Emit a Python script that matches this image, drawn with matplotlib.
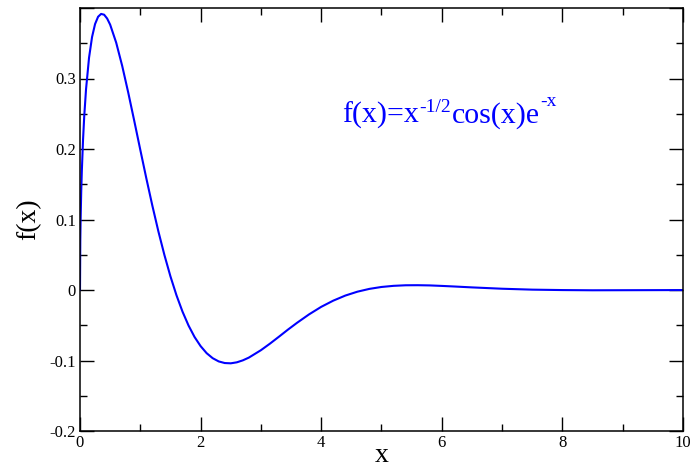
import matplotlib
matplotlib.use("Agg")
import matplotlib.pyplot as plt
from matplotlib.ticker import MultipleLocator, FuncFormatter

# Values
x_vals = [0.0, 0.005, 0.01, 0.02, 0.03, 0.05, 0.07, 0.1, 0.15, 0.2, 0.25, 0.3, 0.35,
          0.4, 0.45, 0.5, 0.6, 0.7, 0.8, 0.9, 1.0, 1.1, 1.2, 1.3, 1.4, 1.5, 1.6, 1.7,
          1.8, 1.9, 2.0, 2.1, 2.2, 2.3, 2.4, 2.5, 2.6, 2.7, 2.8, 3.0, 3.15, 3.3, 3.45,
          3.6, 3.8, 4.0, 4.2, 4.4, 4.6, 4.8, 5.0, 5.2, 5.4, 5.6, 5.8, 6.0, 6.2, 6.5,
          7.0, 7.5, 8.0, 8.5, 9.0, 9.5, 10.0]
y_vals = [0.0, 0.0704, 0.099, 0.1386, 0.168, 0.2124, 0.2461, 0.2847, 0.3296, 0.3589,
          0.3773, 0.3876, 0.3916, 0.3905, 0.3851, 0.3764, 0.3509, 0.3178, 0.2800,
          0.2398, 0.1988, 0.1584, 0.1196, 0.0831, 0.0496, 0.0193, -0.0075, -0.0307,
          -0.0504, -0.0667, -0.0796, -0.0896, -0.0967, -0.1013, -0.1036, -0.1040,
          -0.1026, -0.0998, -0.0959, -0.0854, -0.0761, -0.0662, -0.0561, -0.0465,
          -0.0345, -0.0239, -0.0151, -0.0079, -0.0024, 0.0016, 0.0043, 0.0059, 0.0067,
          0.0068, 0.0065, 0.0058, 0.0050, 0.0037, 0.0018, 0.0005, -0.0001, -0.0004,
          -0.0003, -0.0002, -0.0001]

x_label = "x"
y_label = "f(x)"
# annotation pieces: (text, is_superscript)
annotation_parts = [("f(x)=x", False), ("-1/2", True), ("cos(x)e", False), ("-x", True)]

plt.rcParams['font.family'] = ['Liberation Serif', 'DejaVu Serif']

fig = plt.figure(figsize=(6.9, 4.7), dpi=100)
ax = fig.add_axes([80/690, 1-431/470, 603/690, 423/470])

ax.plot(x_vals, y_vals, color='#0000ff', lw=1.5)
ax.set_xlim(0, 10)
ax.set_ylim(-0.2, 0.4)

ax.xaxis.set_major_locator(MultipleLocator(2))
ax.xaxis.set_minor_locator(MultipleLocator(1))
ax.yaxis.set_major_locator(MultipleLocator(0.1))
ax.yaxis.set_minor_locator(MultipleLocator(0.05))

def fmt(v, pos):
    s = ('%.1f' % v)
    if s in ('0.0', '-0.0'):
        return '0'
    if s == '0.4':
        return ''
    return s
ax.yaxis.set_major_formatter(FuncFormatter(fmt))
ax.xaxis.set_major_formatter(FuncFormatter(lambda v, p: '%d' % round(v)))

ax.tick_params(which='both', direction='in', top=True, right=True, labelsize=12,
               width=1.0, colors='black')
ax.tick_params(which='major', length=10, pad=3)
ax.tick_params(which='minor', length=5)
for s in ax.spines.values():
    s.set_linewidth(1.1)

ax.set_xlabel(x_label, fontsize=20, labelpad=-6)
ax.set_ylabel(y_label, fontsize=20, labelpad=6)

# compose annotation with raised superscripts
fig.canvas.draw()
renderer = fig.canvas.get_renderer()
x0_px, base_px = 342, 470 - 123   # display coords (origin bottom-left)
cur = x0_px
sup_raise = [11, 17]
k = 0
for txt, sup in annotation_parts:
    if sup:
        t = fig.text(cur / 690, (base_px + sup_raise[k]) / 470, txt, color='#0000ff',
                     fontsize=14, va='baseline', ha='left')
        k += 1
    else:
        t = fig.text(cur / 690, base_px / 470, txt, color='#0000ff',
                     fontsize=21.5, va='baseline', ha='left')
    bb = t.get_window_extent(renderer)
    cur = bb.x1 + 0.5

fig.savefig('out.png', dpi=100)
